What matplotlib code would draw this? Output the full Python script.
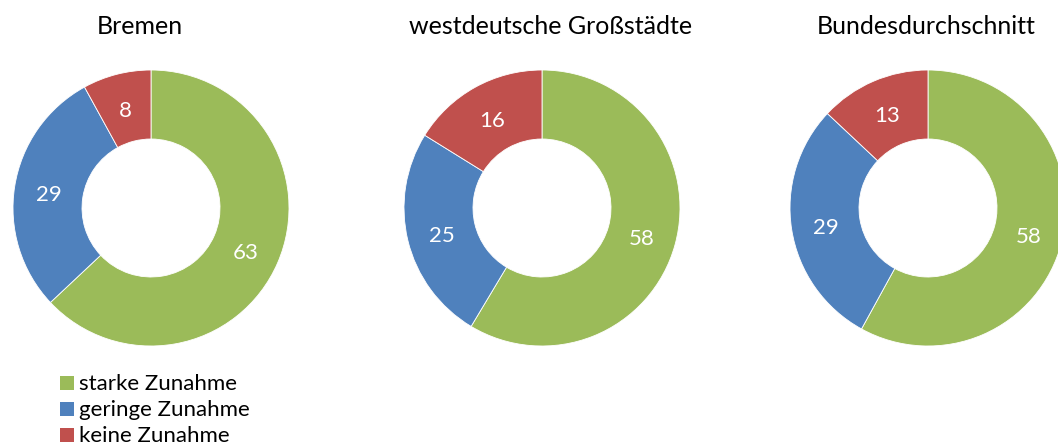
import matplotlib
matplotlib.use("Agg")
import matplotlib.pyplot as plt
from matplotlib.patches import Rectangle

# data
regions = ["Bremen", "westdeutsche Großstädte", "Bundesdurchschnitt"]
categories = ["starke Zunahme", "geringe Zunahme", "keine Zunahme"]
starke = [63, 58, 58]
geringe = [29, 25, 29]
keine = [8, 16, 13]
colors = ["#9BBB59", "#4F81BD", "#C0504D"]

W, H = 1058, 446
plt.rcParams["font.family"] = ["Lato", "DejaVu Sans"]

fig = plt.figure(figsize=(W / 100, H / 100), dpi=100)

centers_x = [151, 542, 928]
title_x = [140, 551, 926]
cy = 208
R = 138

for i, region in enumerate(regions):
    vals = [starke[i], geringe[i], keine[i]]
    cx = centers_x[i]
    ax = fig.add_axes([(cx - R) / W, (H - cy - R) / H, 2 * R / W, 2 * R / H])
    _, texts = ax.pie(vals, colors=colors, startangle=90, counterclock=False,
                      radius=1.0, wedgeprops=dict(width=0.5, edgecolor="white", linewidth=0.6),
                      labels=[str(v) for v in vals], labeldistance=0.75,
                      textprops=dict(color="white", fontsize=16, ha="center", va="center"))
    for t in texts:
        # excel puts the labels a few pixels lower than the ring middle
        x, y = t.get_position()
        t.set_position((x, y - 0.025))
    ax.set_xlim(-1, 1); ax.set_ylim(-1, 1)
    ax.set_aspect("equal")
    ax.axis("off")
    fig.text(title_x[i] / W, 1 - 27 / H, region, ha="center", va="center",
             fontsize=18, color="black")

# legend drawn by hand, matching the reference's square markers
for j, (cat, col) in enumerate(zip(categories, colors)):
    y = 383 + 26 * j
    fig.patches.append(Rectangle((60 / W, 1 - (y + 7) / H), 14 / W, 14 / H,
                                 transform=fig.transFigure, facecolor=col,
                                 edgecolor="none"))
    fig.text(79 / W, 1 - (y + 1) / H, cat, ha="left", va="center", fontsize=16,
             color="black")

fig.savefig("out.png", dpi=100)
